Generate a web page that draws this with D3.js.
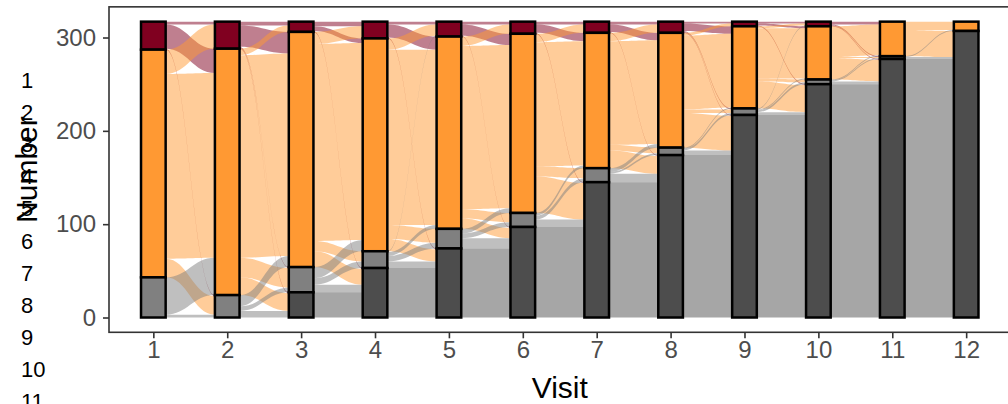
<!DOCTYPE html>
<html>
<head>
<meta charset="utf-8">
<script src="https://cdn.jsdelivr.net/npm/d3@7"></script>
<style>
  body { margin: 0; background: #fff; }
  svg { display: block; font-family: "Liberation Sans", Arial, sans-serif; }
</style>
</head>
<body>
<svg width="1008" height="404"></svg>
<script>
// visits on the x axis
const visits = ["1","2","3","4","5","6","7","8","9","10","11","12"];

// states, listed top to bottom in each stack
const states = ["S1","S2","S3","S4"];
const stateColors = ["#800020","#ff9933","#808080","#4d4d4d"];

// transitions between consecutive visits: rows = from state, cols = to state
const transitions = [
  [[3,26,1,0],[26,198,20,0],[0,40,3,0],[0,0,0,0]],       // 1 -> 2
  [[4,23,1,1],[7,217,21,19],[0,12,5,7],[0,0,0,0]],       // 2 -> 3
  [[5,5,0,1],[13,211,11,17],[0,12,7,8],[0,0,0,27]],      // 3 -> 4
  [[3,14,0,1],[12,188,15,13],[1,4,6,7],[0,0,0,53]],      // 4 -> 5
  [[3,12,0,1],[10,175,10,11],[0,5,5,11],[0,0,0,74]],     // 5 -> 6
  [[3,9,0,1],[9,133,11,39],[0,3,4,8],[0,0,0,97]],        // 6 -> 7
  [[3,8,0,1],[9,111,6,19],[0,4,2,9],[0,0,0,145]],        // 7 -> 8
  [[2,8,1,1],[3,79,4,37],[0,1,2,5],[0,0,0,174]],         // 8 -> 9
  [[2,2,0,1],[2,54,3,29],[1,1,2,3],[0,0,0,217]],         // 9 -> 10
  [[0,3,1,1],[0,33,1,23],[0,1,1,3],[0,0,0,250]],         // 10 -> 11
  [[0,0,0,0],[0,9,0,28],[0,1,0,2],[0,0,0,277]]           // 11 -> 12
];

const yTicks = [0,100,200,300];
const sideLabels = ["1","2","3","4","5","6","7","8","9","10","11"];

const svg = d3.select("svg");
const panel = {left:109, right:1010.5, top:6.85, bottom:332.3};

const x = d3.scalePoint()
  .domain(visits)
  .range([panel.left, panel.right])
  .padding(0.6);

const y = d3.scaleLinear()
  .domain([-15.85, 332.85])
  .range([panel.bottom, panel.top]);

const w = x.step() / 3;

// counts of each state at each visit
const counts = visits.map((v, k) => {
  if (k < transitions.length) return transitions[k].map(row => d3.sum(row));
  const last = transitions[k-1];
  return states.map((s, j) => d3.sum(last, row => row[j]));
});

// top value of each stratum (stack from bottom: last state at bottom)
const tops = counts.map(c => c.map((n, i) => d3.sum(c.slice(i))));

const g = svg.append("g");

// flows
const flows = [];
transitions.forEach((T, k) => {
  T.forEach((row, a) => {
    row.forEach((n, b) => {
      if (n === 0) return;
      let offL = 0, offR = 0;
      for (let bb = 0; bb < b; bb++) offL += T[a][bb];
      for (let aa = 0; aa < a; aa++) offR += T[aa][b];
      flows.push({
        k, a, n,
        t0: tops[k][a] - offL,
        t1: tops[k+1][b] - offR
      });
    });
  });
});

function flowPath(f) {
  const x0 = x(visits[f.k]) + w/2, x1 = x(visits[f.k+1]) - w/2;
  const c0 = x0 + (x1 - x0) * 0.45, c1 = x1 - (x1 - x0) * 0.45;
  const yt0 = y(f.t0), yt1 = y(f.t1);
  const yb0 = y(f.t0 - f.n), yb1 = y(f.t1 - f.n);
  return `M${x0},${yt0}C${c0},${yt0} ${c1},${yt1} ${x1},${yt1}` +
         `L${x1},${yb1}C${c1},${yb1} ${c0},${yb0} ${x0},${yb0}Z`;
}

g.selectAll(".flow")
  .data(flows.sort((p, q) => p.a - q.a))
  .enter()
  .append("path")
  .attr("class","flow")
  .attr("d", flowPath)
  .attr("fill", d => stateColors[d.a])
  .attr("fill-opacity", 0.5);

// strata
const strata = [];
counts.forEach((c, k) => c.forEach((n, i) => {
  if (n > 0) strata.push({k, i, n, top: tops[k][i]});
}));

g.selectAll(".stratum")
  .data(strata)
  .enter()
  .append("rect")
  .attr("class","stratum")
  .attr("x", d => x(visits[d.k]) - w/2)
  .attr("width", w)
  .attr("y", d => y(d.top))
  .attr("height", d => y(d.top - d.n) - y(d.top))
  .attr("fill", d => stateColors[d.i])
  .attr("stroke", "#000")
  .attr("stroke-width", 2.5);

// panel border
svg.append("rect")
  .attr("x", panel.left).attr("y", panel.top)
  .attr("width", panel.right - panel.left)
  .attr("height", panel.bottom - panel.top)
  .attr("fill", "none")
  .attr("stroke", "#333333")
  .attr("stroke-width", 1.6);

// axes
const yAxis = svg.append("g")
  .attr("transform", `translate(${panel.left},0)`)
  .call(d3.axisLeft(y).tickValues(yTicks).tickSize(6).tickPadding(7));
const xAxis = svg.append("g")
  .attr("transform", `translate(0,${panel.bottom})`)
  .call(d3.axisBottom(x).tickSize(6).tickPadding(3));

[yAxis, xAxis].forEach(ax => {
  ax.select(".domain").remove();
  ax.selectAll(".tick line").attr("stroke", "#333333").attr("stroke-width", 1.6);
  ax.selectAll(".tick text")
    .attr("fill", "#4d4d4d")
    .style("font-size", "24px")
    .style("font-family", "'Liberation Sans', Arial, sans-serif");
});

// axis titles
svg.append("text")
  .attr("x", (panel.left + panel.right) / 2)
  .attr("y", 398)
  .attr("text-anchor", "middle")
  .style("font-size", "30px")
  .text("Visit");

svg.append("text")
  .attr("transform", `translate(37,${(panel.top + panel.bottom) / 2}) rotate(-90)`)
  .attr("text-anchor", "middle")
  .style("font-size", "30px")
  .text("Number");

// stray numbers on the left
svg.selectAll(".side")
  .data(sideLabels)
  .enter()
  .append("text")
  .attr("class","side")
  .attr("x", 21)
  .attr("y", (d, i) => 88 + i * 32.1)
  .style("font-size", "22px")
  .attr("fill", "#000")
  .text(d => d);
</script>
</body>
</html>
